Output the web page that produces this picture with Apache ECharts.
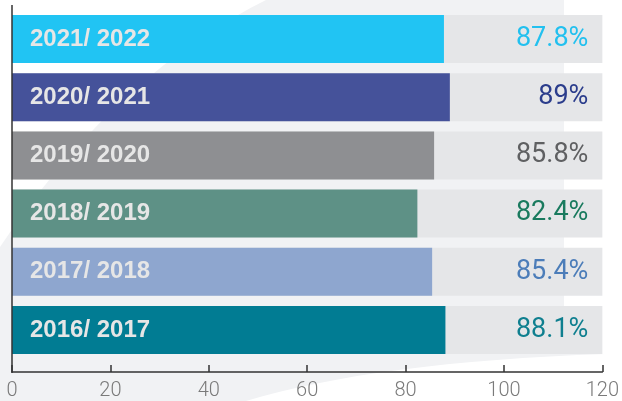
<!DOCTYPE html>
<html>
<head>
<meta charset="utf-8">
<script src="https://cdn.jsdelivr.net/npm/echarts@6/dist/echarts.min.js"></script>
<style>
  html, body { margin: 0; padding: 0; background: #fff; }
  #chart { width: 622px; height: 401px; }
</style>
</head>
<body>
<div id="chart"></div>
<script>
// 学年数据，自上而下
const categories = ['2021/ 2022', '2020/ 2021', '2019/ 2020', '2018/ 2019', '2017/ 2018', '2016/ 2017'];
const values = [87.8, 89, 85.8, 82.4, 85.4, 88.1];
const axisMax = 120;
const xTicks = [0, 20, 40, 60, 80, 100, 120];

const BAR_COLORS = ['#21c4f3', '#45529a', '#8e8f92', '#5e9186', '#8ea6cf', '#017c93'];
const VALUE_COLORS = ['#22c0ef', '#2b3d8c', '#5f6062', '#197a5e', '#4c7db9', '#0f7f8f'];
const TRACK = '#e5e6e8';
const SWOOSH = '#f1f2f4';
const AXIS = '#333';

const GRID = { left: 12, right: 19, top: 10, height: 350 };

// 二次贝塞尔曲线取点，仅用于背景装饰
function quad(p0, c, p1, n) {
  const pts = [];
  for (let i = 0; i <= n; i++) {
    const t = i / n, u = 1 - t;
    pts.push([u * u * p0[0] + 2 * u * t * c[0] + t * t * p1[0],
              u * u * p0[1] + 2 * u * t * c[1] + t * t * p1[1]]);
  }
  return pts;
}

const swoosh = [[266, 0], [564, 0], [564, 354]]
  .concat(quad([606, 354], [375, 362], [246, 401], 16))
  .concat([[0, 401]])
  .concat(quad([0, 247], [114, 76], [266, 0], 20));

const chart = echarts.init(document.getElementById('chart'), null, { renderer: 'canvas' });

chart.setOption({
  backgroundColor: '#fff',
  animation: false,
  grid: GRID,
  graphic: [
    {
      type: 'polygon', z: -10, silent: true,
      shape: { points: swoosh },
      style: { fill: SWOOSH },
    },
    {
      type: 'line', z: 10, silent: true,
      shape: { x1: GRID.left, y1: 5, x2: GRID.left, y2: 373 },
      style: { stroke: AXIS, lineWidth: 1.5 },
    },
  ],
  xAxis: {
    type: 'value', min: 0, max: axisMax, interval: 20,
    offset: 13,
    axisLine: { show: true, lineStyle: { color: AXIS, width: 1.5 } },
    axisTick: { show: true, inside: true, length: 7, lineStyle: { color: AXIS, width: 1.5 } },
    axisLabel: {
      color: '#7a7a7a', fontSize: 20, fontFamily: 'Roboto', fontWeight: 300, margin: 9,
      showMinLabel: true, showMaxLabel: true,
      formatter: v => xTicks.includes(v) ? String(v) : '',
    },
    splitLine: { show: false },
  },
  yAxis: {
    type: 'category', data: categories, inverse: true,
    axisLine: { show: false }, axisTick: { show: false }, axisLabel: { show: false },
  },
  series: [
    {
      name: 'track', type: 'bar', barWidth: 48, barGap: '-100%', silent: true,
      itemStyle: { color: TRACK },
      data: values.map((v, i) => ({ value: axisMax, label: { color: VALUE_COLORS[i] } })),
      label: {
        show: true, position: 'insideRight', distance: 14,
        fontFamily: 'Roboto', fontWeight: 'normal', fontSize: 27,
        formatter: p => values[p.dataIndex] + '%',
      },
    },
    {
      name: 'rate', type: 'bar', barWidth: 48, barGap: '-100%',
      data: values.map((v, i) => ({ value: v, itemStyle: { color: BAR_COLORS[i] } })),
      label: {
        show: true, position: 'insideLeft', distance: 18,
        color: '#e6e6e6', fontFamily: "'Liberation Sans', Arial, sans-serif",
        fontWeight: 'bold', fontSize: 24,
        formatter: p => categories[p.dataIndex],
      },
    },
  ],
});
</script>
</body>
</html>
